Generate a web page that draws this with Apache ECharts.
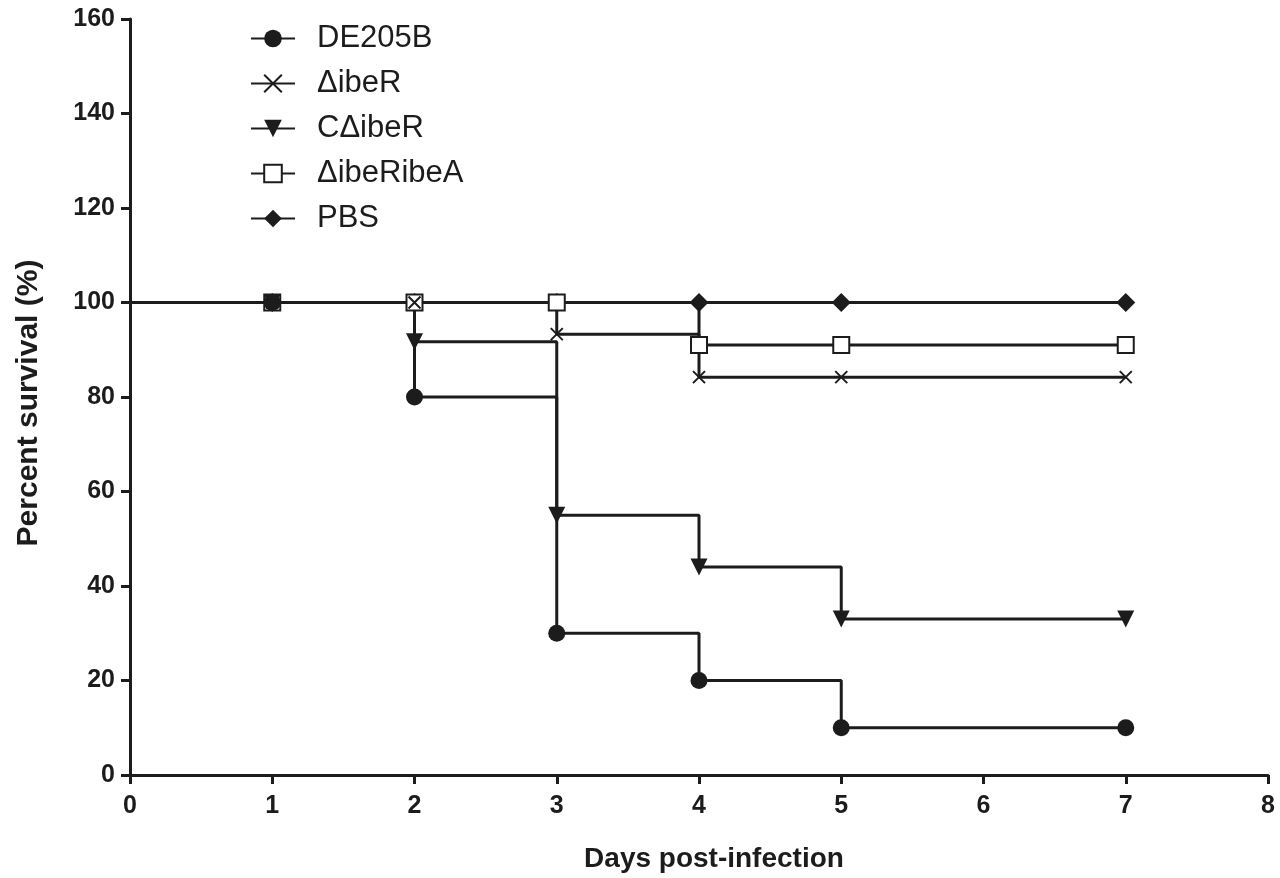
<!DOCTYPE html>
<html>
<head>
<meta charset="utf-8">
<script src="https://cdn.jsdelivr.net/npm/echarts@6/dist/echarts.min.js"></script>
<style>
  html, body { margin: 0; padding: 0; background: #fff; }
  #chart { width: 1280px; height: 878px; }
</style>
</head>
<body>
<div id="chart"></div>
<script>
var chart = echarts.init(document.getElementById('chart'));

// days post-infection
var days = [0, 1, 2, 3, 4, 5, 7];
var names = ['DE205B', '\u0394ibeR', 'C\u0394ibeR', '\u0394ibeRibeA', 'PBS'];

// percent survival per group
var de205b = [100, 100, 80, 30, 20, 10, 10];
var dIbeR = [100, 100, 100, 93.3, 84.2, 84.2, 84.2];
var cDIbeR = [100, 100, 91.7, 55, 44, 33, 33];
var dIbeRibeA = [100, 100, 100, 100, 91, 91, 91];
var pbs = [100, 100, 100, 100, 100, 100, 100];

var ink = '#1c1c1c';
var crossPath = 'path://M0,0L10,10M10,0L0,10';

function pts(vals) {
    return days.map(function (d, i) {
        var p = { value: [d, vals[i]] };
        if (d === 0) p.symbol = 'none';
        return p;
    });
}

function survival(name, vals, symbol, size, style, extra) {
    var s = {
        name: name,
        type: 'line',
        step: 'end',
        data: pts(vals),
        symbol: symbol,
        symbolSize: size,
        showAllSymbol: true,
        lineStyle: { color: ink, width: 3 },
        itemStyle: style,
        emphasis: { disabled: true },
        animation: false
    };
    for (var k in extra) s[k] = extra[k];
    return s;
}

var option = {
    backgroundColor: '#fff',
    textStyle: { fontFamily: 'Liberation Sans, Arial, sans-serif' },
    grid: { left: 130, right: 12, top: 19, bottom: 101 },
    legend: {
        orient: 'vertical',
        left: 245,
        top: 18,
        itemWidth: 44,
        itemHeight: 22,
        itemGap: 14,
        textStyle: { fontSize: 31, color: ink, fontFamily: 'Liberation Sans, Arial, sans-serif', padding: [0, 0, 0, 17] },
        data: names
    },
    xAxis: {
        type: 'value',
        min: 0,
        max: 8,
        interval: 1,
        name: 'Days post-infection',
        nameLocation: 'middle',
        nameGap: 70,
        nameTextStyle: { fontSize: 28, fontWeight: 'bold', color: ink, padding: [0, 0, 0, 30] },
        axisLine: { lineStyle: { color: ink, width: 3 } },
        axisTick: { length: 9, lineStyle: { color: ink, width: 3 } },
        axisLabel: { fontSize: 25, fontWeight: 'bold', color: ink, margin: 19 },
        splitLine: { show: false }
    },
    yAxis: {
        type: 'value',
        min: 0,
        max: 160,
        interval: 20,
        name: 'Percent survival (%)',
        nameLocation: 'middle',
        nameGap: 86,
        nameTextStyle: { fontSize: 30, fontWeight: 'bold', color: ink, padding: [0, 12, 0, 0] },
        axisLine: { lineStyle: { color: ink, width: 3 } },
        axisTick: { length: 9, lineStyle: { color: ink, width: 3 } },
        axisLabel: { fontSize: 25, fontWeight: 'bold', color: ink, margin: 15 },
        splitLine: { show: false }
    },
    series: [
        survival(names[4], pbs, 'diamond', 19, { color: ink }),
        survival(names[3], dIbeRibeA, 'rect', 16, { color: '#fff', borderColor: ink, borderWidth: 2 }),
        survival(names[1], dIbeR, crossPath, 12, { color: 'none', borderColor: ink, borderWidth: 2 }),
        survival(names[2], cDIbeR, 'triangle', 17, { color: ink }, { symbolRotate: 180 }),
        survival(names[0], de205b, 'circle', 17, { color: ink })
    ]
};

chart.setOption(option);
</script>
</body>
</html>
